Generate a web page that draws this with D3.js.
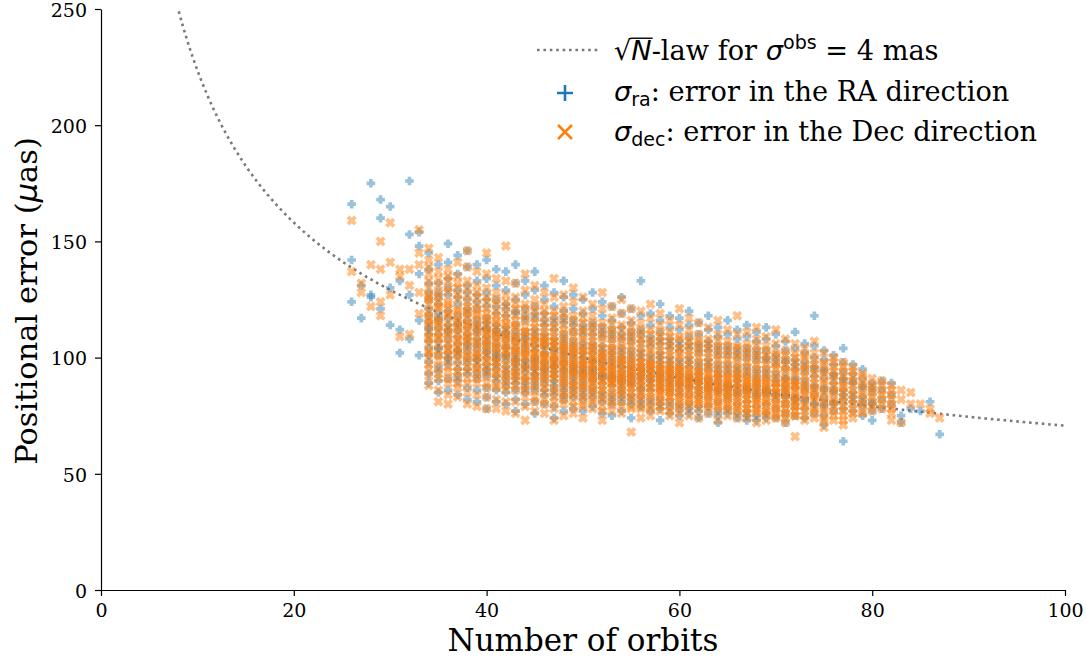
<!DOCTYPE html>
<html>
<head>
<meta charset="utf-8">
<script src="https://cdn.jsdelivr.net/npm/d3@7"></script>
<style>
  body { margin: 0; background: #fff; }
  svg { display: block; }
</style>
</head>
<body>
<svg id="chart" width="1087" height="657"></svg>
<script>
// ---------------- DATA ----------------
const orbits = [26,27,28,29,30,31,32,33,34,35,36,37,38,39,40,41,42,43,44,45,46,47,48,49,50,
  51,52,53,54,55,56,57,58,59,60,61,62,63,64,65,66,67,68,69,70,71,72,73,74,75,76,77,78,79,80,
  81,82,83,84,85,86,87];

// sigma_ra (µas) per orbit count
const raErr = [
  [166,142,124],
  [117,131],
  [175,127,126],
  [168,160,121],
  [165,130,114],
  [102,133,112],
  [176,153,108,127],
  [154,148,116,136,101],
  [145,138,128,121,115,110,104,98,93,132,118,89,112,107,125,113,101],
  [140,132,126,119,113,107,101,96,90,85,123,110,116,104,128,117,104,94],
  [149,141,134,127,120,114,108,102,97,91,86,117,105,111,99,130,112,100],
  [144,136,129,123,118,112,106,101,95,90,84,115,109,103,98,126,114,103,92],
  [146,139,131,125,119,113,108,103,98,93,87,82,121,110,105,100,128,116,106,95],
  [140,133,127,121,116,111,106,101,96,91,86,81,114,104,108,99,124,112,99,93],
  [142,134,128,122,117,112,107,102,97,92,87,83,78,115,109,100,105,95,125,113,103,94],
  [138,131,125,119,114,109,104,99,95,90,86,81,111,106,101,102,97,122,112,100,92],
  [137,129,123,118,113,108,104,99,94,90,85,80,110,105,96,101,92,121,111,101,88],
  [140,132,125,119,114,109,104,100,95,91,86,82,77,107,102,97,99,93,120,111,98,89],
  [133,127,121,116,111,106,102,98,94,89,85,80,108,104,99,96,91,118,109,96,87],
  [137,129,122,117,112,108,103,99,95,90,86,81,76,105,100,96,93,88,119,110,98,92],
  [131,125,119,114,110,105,101,97,93,89,84,80,106,102,98,95,91,116,108,95,86],
  [128,122,117,112,108,104,100,96,92,88,84,79,74,103,99,94,97,90,115,106,96,86],
  [133,126,120,115,110,106,102,98,94,90,86,82,77,104,100,95,92,88,117,108,97,84],
  [127,121,116,111,107,103,99,95,91,87,83,78,101,97,93,94,89,114,105,96,85],
  [125,119,114,110,106,102,98,94,90,86,82,77,100,96,92,93,88,112,104,95,84],
  [128,121,115,110,106,102,98,95,91,87,83,79,99,96,93,90,113,104,94,85],
  [124,118,113,109,105,101,97,93,89,85,81,76,99,95,91,92,111,103,92,83],
  [122,116,112,108,104,100,96,92,88,84,80,75,98,94,90,91,110,102,92,82],
  [126,119,113,108,104,100,96,92,89,85,81,77,98,94,90,87,110,102,91,83],
  [121,115,111,107,103,99,95,92,88,84,80,74,97,93,89,90,109,101,91,82],
  [133,118,112,107,103,99,95,91,87,83,79,96,92,89,86,110,101,93,81],
  [119,114,109,105,101,97,94,90,86,82,77,95,91,88,107,99,92,80],
  [123,116,111,106,102,98,94,90,86,82,78,73,96,92,88,108,100,91,80],
  [118,113,108,104,100,96,93,89,85,81,76,94,90,87,106,98,91,79],
  [117,112,107,103,99,95,92,88,84,80,75,93,89,86,105,97,90,78],
  [120,114,109,104,100,96,92,88,84,80,76,91,87,106,98,90,78],
  [115,110,106,102,98,94,90,87,83,79,74,92,85,104,96,89,77],
  [118,112,107,103,99,95,91,87,83,79,90,86,105,97,88,76],
  [113,109,105,101,97,93,89,85,81,77,72,91,86,103,95,87,75],
  [116,110,105,101,97,93,89,86,82,78,88,84,103,95,87,76],
  [112,108,104,100,96,92,88,84,80,76,90,85,102,94,86,74],
  [114,109,104,100,96,92,88,85,81,77,73,86,102,94,87,75],
  [111,107,103,99,95,91,87,83,79,75,89,84,101,93,85,73],
  [113,108,103,99,95,91,87,84,80,76,85,100,93,86,74],
  [110,105,101,97,93,89,85,82,78,74,84,99,91,84],
  [107,103,99,95,91,88,84,80,76,72,86,98,91,83],
  [111,104,99,95,91,87,83,79,75,82,97,90,82],
  [106,102,98,94,90,86,82,78,74,96,88,81],
  [118,105,100,96,92,88,84,80,76,95,87,80],
  [103,99,95,91,87,83,79,75,71,94,86,80],
  [101,97,93,89,85,81,77,92,86,80],
  [104,98,94,90,86,82,78,64,91,84],
  [97,93,89,85,81,77,90,83],
  [95,91,87,83,79,75,88,81],
  [89,85,81,77,73,87,80],
  [90,86,82,78],
  [89,84,80],
  [75,72],
  [78],
  [77],
  [81],
  [67]
];

// sigma_dec (µas) per orbit count
const decErr = [
  [159,137],
  [132,128],
  [140,122],
  [150,138,124,118],
  [158,141,127],
  [135,138,109],
  [138,110,131],
  [155,145,140,128,119],
  [147,142,136,130,125,120,114,109,103,97,92,88,117,100,126,118,111,106,139,133,127,123,115,108,102,95],
  [143,137,131,126,121,116,111,106,101,96,91,86,81,113,124,117,109,103,134,128,122,114,108,99,93],
  [138,133,128,123,118,113,108,104,99,94,89,84,80,111,121,115,106,101,135,130,124,119,110,103,96,91],
  [141,135,130,125,120,115,110,105,101,96,92,87,83,112,107,118,113,104,99,132,127,121,116,108,102,94,89],
  [146,139,133,127,122,117,112,107,103,98,94,89,85,80,114,109,119,111,105,100,130,124,120,115,108,101,96,91],
  [137,131,126,121,116,111,107,102,98,93,89,84,79,113,104,118,109,100,95,128,123,119,114,106,101,96,91],
  [145,136,130,124,119,114,110,105,101,96,92,87,83,78,112,107,116,108,103,98,126,121,117,111,105,99,94,89],
  [134,128,123,118,113,109,104,100,96,91,87,82,78,111,106,102,115,107,98,94,125,120,116,110,104,98,93,88],
  [148,133,127,122,117,112,108,103,99,95,90,86,81,77,110,105,114,106,101,92,124,119,115,109,103,97,93,88],
  [132,126,121,116,111,107,103,98,94,90,86,81,76,109,104,100,113,105,96,92,123,118,114,108,102,98,93,88],
  [136,129,123,118,113,109,104,100,96,92,87,83,79,73,106,102,111,103,98,90,121,116,111,107,101,95,91,86],
  [131,125,120,115,111,106,102,98,94,90,86,81,77,108,104,99,109,102,97,92,122,117,113,107,101,96,92,88,83],
  [128,123,118,113,109,105,101,97,93,89,85,80,76,107,103,99,108,100,95,91,120,115,111,106,100,96,92,87,82],
  [134,126,120,115,111,107,103,99,95,91,87,83,78,73,105,101,107,100,97,93,118,113,109,105,98,95,91,86,81],
  [127,122,117,112,108,104,100,96,92,88,84,80,75,106,102,98,105,99,94,90,119,114,110,103,97,93,89,85,82],
  [130,124,118,113,109,105,101,97,93,89,85,81,76,103,99,95,104,98,93,88,116,111,107,102,96,92,88,84,79],
  [126,120,115,111,107,103,99,95,91,87,83,79,74,101,97,93,103,98,92,88,117,112,108,104,96,92,88,84,80],
  [123,118,113,109,105,101,97,93,89,86,82,78,100,96,92,103,97,91,87,115,111,107,104,99,94,90,85,81],
  [128,121,115,110,106,102,98,94,90,86,82,77,73,100,96,101,95,92,88,113,109,104,99,94,90,86,83,79],
  [122,117,112,108,104,100,96,92,89,85,81,77,98,94,90,101,95,91,87,114,110,106,103,97,93,89,84,80],
  [125,119,114,109,105,101,97,93,89,85,81,76,99,95,91,100,94,90,86,112,108,104,98,92,88,84,79],
  [121,116,111,107,103,99,95,91,87,83,79,68,97,93,89,98,94,90,85,113,109,105,101,95,91,87,82,78],
  [120,115,110,106,102,98,94,90,86,82,78,74,96,92,98,94,89,85,112,108,104,100,96,92,88,83,79],
  [123,117,112,107,103,99,95,91,87,83,79,75,97,93,97,93,89,85,110,106,102,98,95,91,87,82,78],
  [119,114,109,105,101,97,93,89,85,81,77,95,91,87,96,92,88,84,111,107,103,99,94,90,86,82,79],
  [116,111,107,103,99,95,91,87,83,79,75,93,89,85,96,92,87,83,109,105,101,97,94,90,86,81,77],
  [121,114,109,104,100,96,92,88,84,80,76,72,94,90,95,91,87,83,108,104,101,97,93,89,85,81,78],
  [117,112,107,103,99,95,91,87,83,79,75,93,89,94,90,86,82,109,105,101,97,92,88,84,80],
  [115,110,106,102,98,94,90,86,82,78,74,92,88,94,90,85,81,107,104,100,96,92,88,84,80],
  [113,108,104,100,96,92,88,84,80,76,90,86,93,89,85,81,106,102,98,95,91,87,83,79],
  [116,110,105,101,97,93,89,85,81,77,73,91,87,93,88,84,80,107,103,99,95,91,87,83,79],
  [112,107,103,99,95,91,87,83,79,75,89,85,92,88,84,80,105,101,97,93,90,86,82,78],
  [118,110,105,101,97,93,89,86,82,78,74,91,92,87,83,79,104,100,96,93,89,85,81,77],
  [111,106,102,98,94,90,86,82,78,74,88,84,91,87,82,78,104,100,96,92,89,85,80,76],
  [113,108,103,99,95,91,87,83,80,76,72,89,90,86,82,78,105,101,97,93,89,85,81,77],
  [109,105,101,97,93,89,85,81,77,73,87,90,85,81,77,103,99,95,91,88,84,80,76],
  [112,106,101,97,93,89,85,82,78,74,87,89,85,80,76,102,98,95,91,87,83,79,75],
  [108,103,99,95,91,87,84,80,76,72,89,88,84,80,76,101,97,94,90,86,82,78,74],
  [106,102,98,94,90,86,82,79,75,66,88,88,83,79,75,100,96,93,89,85,81,77],
  [104,100,96,92,88,84,80,77,73,86,101,97,94,90,87,83,79,75],
  [107,102,97,93,89,86,82,78,74,84,99,95,91,87,83,79,76],
  [102,98,94,90,86,82,78,74,70,97,93,89,85,81,77,73],
  [100,96,92,88,85,81,77,73,98,94,90,86,82,79,75],
  [98,94,90,87,83,79,75,71,96,92,88,85,81,77,73],
  [96,92,88,84,80,76,94,90,86,82,78,74],
  [93,89,85,81,77,92,88,84,80,76],
  [91,87,83,79,88,85,81,77],
  [90,86,82,78,88,84,80],
  [88,84,80,76,73,86,82,78],
  [86,82,72],
  [85,80],
  [80],
  [78,76],
  [74]
];

const xTicks = [0,20,40,60,80,100];
const yTicks = [0,50,100,150,200,250];
const sigmaObsMas = 4;        // single-observation error (mas)
const obsPerOrbit = 32;       // observations per orbit used in the sqrt(N) law

// ---------------- CHART ----------------
const svg = d3.select("#chart");
const serif = "'DejaVu Serif', serif";
const sans = "'DejaVu Sans', sans-serif";
const blue = "#1f77b4", orange = "#ff7f0e";

const x = d3.scaleLinear().domain([0, 100]).range([101, 1065]);
const y = d3.scaleLinear().domain([0, 250]).range([590, 9]);

const clip = svg.append("defs").append("clipPath").attr("id", "clip");
clip.append("rect").attr("x", 101).attr("y", 9).attr("width", 964).attr("height", 581);

// sqrt(N) law curve
const lawPts = d3.range(1, 100.001, 0.25).map(n => [n, sigmaObsMas * 1000 / Math.sqrt(obsPerOrbit * n)]);
svg.append("path")
  .attr("clip-path", "url(#clip)")
  .attr("d", d3.line().x(d => x(d[0])).y(d => y(d[1]))(lawPts))
  .attr("fill", "none").attr("stroke", "#7a7a7a")
  .attr("stroke-width", 2.6).attr("stroke-dasharray", "2.6,3.8");

function flatten(arr) {
  const out = [];
  orbits.forEach((n, i) => arr[i].forEach(v => out.push([n, v])));
  return out;
}
const raPts = flatten(raErr), decPts = flatten(decErr);

const ms = 4.3;
const plusPath = `M${-ms},0H${ms}M0,${-ms}V${ms}`;
const xs = ms * 0.85;
const xPath = `M${-xs},${-xs}L${xs},${xs}M${-xs},${xs}L${xs},${-xs}`;

const gPts = svg.append("g").attr("clip-path", "url(#clip)");
gPts.selectAll("path.ra").data(raPts).join("path").attr("class", "ra")
  .attr("transform", d => `translate(${x(d[0])},${y(d[1])})`)
  .attr("d", plusPath).attr("stroke", blue).attr("stroke-width", 3.7)
  .attr("stroke-opacity", 0.45).attr("fill", "none");
gPts.selectAll("path.dec").data(decPts).join("path").attr("class", "dec")
  .attr("transform", d => `translate(${x(d[0])},${y(d[1])})`)
  .attr("d", xPath).attr("stroke", orange).attr("stroke-width", 3.8)
  .attr("stroke-opacity", 0.5).attr("fill", "none");

// axes
const xAxis = svg.append("g").attr("transform", "translate(0,590)")
  .call(d3.axisBottom(x).tickValues(xTicks).tickSize(6).tickPadding(8).tickSizeOuter(0));
const yAxis = svg.append("g").attr("transform", "translate(101,0)")
  .call(d3.axisLeft(y).tickValues(yTicks).tickSize(6).tickPadding(8).tickSizeOuter(0));
[xAxis, yAxis].forEach(g => {
  g.selectAll("path.domain").attr("stroke", "#000").attr("stroke-width", 1.2);
  g.selectAll(".tick line").attr("stroke", "#000").attr("stroke-width", 1.2);
  g.selectAll("text").attr("font-family", serif).attr("font-size", 19).attr("fill", "#000");
});
yAxis.selectAll(".tick text").attr("dy", "0.38em");

// axis labels
svg.append("text").attr("x", 583).attr("y", 651).attr("text-anchor", "middle")
  .attr("font-family", serif).attr("font-size", 31).text("Number of orbits");

const yl = svg.append("text").attr("transform", "translate(37,301) rotate(-90)")
  .attr("text-anchor", "middle").attr("font-family", serif).attr("font-size", 30.5);
yl.append("tspan").text("Positional error (");
yl.append("tspan").attr("font-family", sans).attr("font-style", "italic").text("μ");
yl.append("tspan").text("as)");

// legend
const fs = 27.2;
function richText(x0, baseline, segs) {
  let cx = x0;
  segs.forEach(s => {
    const t = svg.append("text").attr("x", cx).attr("y", baseline + (s.dy || 0))
      .attr("font-family", s.font || serif).attr("font-size", s.size || fs)
      .attr("font-style", s.italic ? "italic" : "normal")
      .attr("fill", "#000").style("white-space", "pre")
      .text(s.t);
    const w = t.node().getComputedTextLength();
    if (s.over) {
      svg.append("line").attr("x1", cx - 1).attr("x2", cx + w + 1)
        .attr("y1", baseline - (s.size || fs) * 0.80).attr("y2", baseline - (s.size || fs) * 0.80)
        .attr("stroke", "#000").attr("stroke-width", 1.4);
    }
    cx += w + (s.gap || 0);
  });
}

const lx = 614;
svg.append("line").attr("x1", 537).attr("x2", 601).attr("y1", 50).attr("y2", 50)
  .attr("stroke", "#7a7a7a").attr("stroke-width", 2.6).attr("stroke-dasharray", "2.6,3.8");
richText(lx, 60, [
  {t: "√", font: sans},
  {t: "N", font: sans, italic: true, over: true},
  {t: "-law for "},
  {t: "σ", font: sans, italic: true},
  {t: "obs", font: sans, size: fs * 0.7, dy: -11},
  {t: " = 4 mas"}
]);

svg.append("path").attr("transform", "translate(565,93)")
  .attr("d", "M-8,0H8M0,-8V8").attr("stroke", blue).attr("stroke-width", 2.6).attr("fill", "none");
richText(lx, 101, [
  {t: "σ", font: sans, italic: true},
  {t: "ra", font: sans, size: fs * 0.7, dy: 5},
  {t: ": error in the RA direction"}
]);

svg.append("path").attr("transform", "translate(565,132)")
  .attr("d", "M-7,-7L7,7M-7,7L7,-7").attr("stroke", orange).attr("stroke-width", 2.6).attr("fill", "none");
richText(lx, 141, [
  {t: "σ", font: sans, italic: true},
  {t: "dec", font: sans, size: fs * 0.7, dy: 5},
  {t: ": error in the Dec direction"}
]);
</script>
</body>
</html>
